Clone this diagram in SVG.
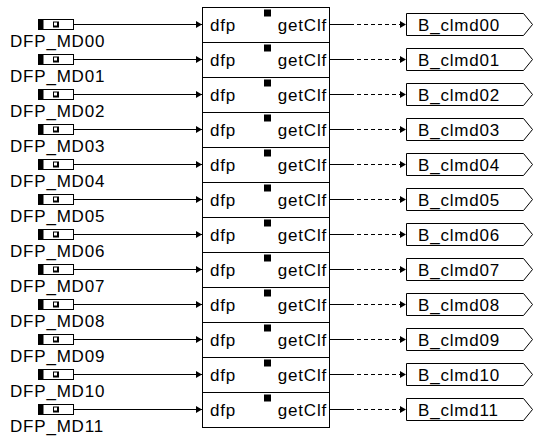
<svg xmlns="http://www.w3.org/2000/svg" width="534" height="437" viewBox="0 0 534 437">
<defs>
<style>
text{font-family:"Liberation Sans",Arial,sans-serif;font-size:17px;letter-spacing:0.8px;fill:#000}
.ln{stroke:#000;stroke-width:1;fill:none}
.dash{stroke:#000;stroke-width:1;fill:none;stroke-dasharray:4 3}
.box{fill:#fff;stroke:#000;stroke-width:1}
</style>
<marker id="ah" markerWidth="6" markerHeight="7" refX="6" refY="3.5" orient="auto" markerUnits="userSpaceOnUse">
<path d="M0,0 L6,3.5 L0,7 z" fill="#000"/>
</marker>
<g id="inp">
<rect x="38.5" y="19.5" width="35" height="10" class="box"/>
<rect x="38.5" y="19.5" width="5" height="10" fill="#000"/>
<rect x="53" y="21.5" width="6" height="6" fill="#000"/>
<rect x="54" y="22.5" width="3" height="3" fill="#fff"/>
</g>
<g id="sq"><rect x="264" y="9.5" width="7" height="7" fill="#000"/></g>
</defs>
<g id="connectors">
<g transform="translate(0,0)"><line x1="74" y1="24.5" x2="202" y2="24.5" class="ln" marker-end="url(#ah)"/><line x1="330" y1="24.5" x2="350" y2="24.5" class="ln"/><line x1="350" y1="24.5" x2="406" y2="24.5" class="dash" marker-end="url(#ah)"/></g>
<g transform="translate(0,35)"><line x1="74" y1="24.5" x2="202" y2="24.5" class="ln" marker-end="url(#ah)"/><line x1="330" y1="24.5" x2="350" y2="24.5" class="ln"/><line x1="350" y1="24.5" x2="406" y2="24.5" class="dash" marker-end="url(#ah)"/></g>
<g transform="translate(0,70)"><line x1="74" y1="24.5" x2="202" y2="24.5" class="ln" marker-end="url(#ah)"/><line x1="330" y1="24.5" x2="350" y2="24.5" class="ln"/><line x1="350" y1="24.5" x2="406" y2="24.5" class="dash" marker-end="url(#ah)"/></g>
<g transform="translate(0,105)"><line x1="74" y1="24.5" x2="202" y2="24.5" class="ln" marker-end="url(#ah)"/><line x1="330" y1="24.5" x2="350" y2="24.5" class="ln"/><line x1="350" y1="24.5" x2="406" y2="24.5" class="dash" marker-end="url(#ah)"/></g>
<g transform="translate(0,140)"><line x1="74" y1="24.5" x2="202" y2="24.5" class="ln" marker-end="url(#ah)"/><line x1="330" y1="24.5" x2="350" y2="24.5" class="ln"/><line x1="350" y1="24.5" x2="406" y2="24.5" class="dash" marker-end="url(#ah)"/></g>
<g transform="translate(0,175)"><line x1="74" y1="24.5" x2="202" y2="24.5" class="ln" marker-end="url(#ah)"/><line x1="330" y1="24.5" x2="350" y2="24.5" class="ln"/><line x1="350" y1="24.5" x2="406" y2="24.5" class="dash" marker-end="url(#ah)"/></g>
<g transform="translate(0,210)"><line x1="74" y1="24.5" x2="202" y2="24.5" class="ln" marker-end="url(#ah)"/><line x1="330" y1="24.5" x2="350" y2="24.5" class="ln"/><line x1="350" y1="24.5" x2="406" y2="24.5" class="dash" marker-end="url(#ah)"/></g>
<g transform="translate(0,245)"><line x1="74" y1="24.5" x2="202" y2="24.5" class="ln" marker-end="url(#ah)"/><line x1="330" y1="24.5" x2="350" y2="24.5" class="ln"/><line x1="350" y1="24.5" x2="406" y2="24.5" class="dash" marker-end="url(#ah)"/></g>
<g transform="translate(0,280)"><line x1="74" y1="24.5" x2="202" y2="24.5" class="ln" marker-end="url(#ah)"/><line x1="330" y1="24.5" x2="350" y2="24.5" class="ln"/><line x1="350" y1="24.5" x2="406" y2="24.5" class="dash" marker-end="url(#ah)"/></g>
<g transform="translate(0,315)"><line x1="74" y1="24.5" x2="202" y2="24.5" class="ln" marker-end="url(#ah)"/><line x1="330" y1="24.5" x2="350" y2="24.5" class="ln"/><line x1="350" y1="24.5" x2="406" y2="24.5" class="dash" marker-end="url(#ah)"/></g>
<g transform="translate(0,350)"><line x1="74" y1="24.5" x2="202" y2="24.5" class="ln" marker-end="url(#ah)"/><line x1="330" y1="24.5" x2="350" y2="24.5" class="ln"/><line x1="350" y1="24.5" x2="406" y2="24.5" class="dash" marker-end="url(#ah)"/></g>
<g transform="translate(0,385)"><line x1="74" y1="24.5" x2="202" y2="24.5" class="ln" marker-end="url(#ah)"/><line x1="330" y1="24.5" x2="350" y2="24.5" class="ln"/><line x1="350" y1="24.5" x2="406" y2="24.5" class="dash" marker-end="url(#ah)"/></g>
</g>
<g id="row00" transform="translate(0,0)"><use href="#inp"/><text x="10" y="47">DFP_MD00</text><rect x="202.5" y="7.5" width="127" height="35" class="box"/><use href="#sq"/><text x="210" y="31">dfp</text><text x="327" y="31" text-anchor="end">getClf</text><path d="M406.5,13.5 H523.5 L532.5,24.5 L523.5,35.5 H406.5 Z" class="box"/><text x="418" y="31">B_clmd00</text></g>
<g id="row01" transform="translate(0,35)"><use href="#inp"/><text x="10" y="47">DFP_MD01</text><rect x="202.5" y="7.5" width="127" height="35" class="box"/><use href="#sq"/><text x="210" y="31">dfp</text><text x="327" y="31" text-anchor="end">getClf</text><path d="M406.5,13.5 H523.5 L532.5,24.5 L523.5,35.5 H406.5 Z" class="box"/><text x="418" y="31">B_clmd01</text></g>
<g id="row02" transform="translate(0,70)"><use href="#inp"/><text x="10" y="47">DFP_MD02</text><rect x="202.5" y="7.5" width="127" height="35" class="box"/><use href="#sq"/><text x="210" y="31">dfp</text><text x="327" y="31" text-anchor="end">getClf</text><path d="M406.5,13.5 H523.5 L532.5,24.5 L523.5,35.5 H406.5 Z" class="box"/><text x="418" y="31">B_clmd02</text></g>
<g id="row03" transform="translate(0,105)"><use href="#inp"/><text x="10" y="47">DFP_MD03</text><rect x="202.5" y="7.5" width="127" height="35" class="box"/><use href="#sq"/><text x="210" y="31">dfp</text><text x="327" y="31" text-anchor="end">getClf</text><path d="M406.5,13.5 H523.5 L532.5,24.5 L523.5,35.5 H406.5 Z" class="box"/><text x="418" y="31">B_clmd03</text></g>
<g id="row04" transform="translate(0,140)"><use href="#inp"/><text x="10" y="47">DFP_MD04</text><rect x="202.5" y="7.5" width="127" height="35" class="box"/><use href="#sq"/><text x="210" y="31">dfp</text><text x="327" y="31" text-anchor="end">getClf</text><path d="M406.5,13.5 H523.5 L532.5,24.5 L523.5,35.5 H406.5 Z" class="box"/><text x="418" y="31">B_clmd04</text></g>
<g id="row05" transform="translate(0,175)"><use href="#inp"/><text x="10" y="47">DFP_MD05</text><rect x="202.5" y="7.5" width="127" height="35" class="box"/><use href="#sq"/><text x="210" y="31">dfp</text><text x="327" y="31" text-anchor="end">getClf</text><path d="M406.5,13.5 H523.5 L532.5,24.5 L523.5,35.5 H406.5 Z" class="box"/><text x="418" y="31">B_clmd05</text></g>
<g id="row06" transform="translate(0,210)"><use href="#inp"/><text x="10" y="47">DFP_MD06</text><rect x="202.5" y="7.5" width="127" height="35" class="box"/><use href="#sq"/><text x="210" y="31">dfp</text><text x="327" y="31" text-anchor="end">getClf</text><path d="M406.5,13.5 H523.5 L532.5,24.5 L523.5,35.5 H406.5 Z" class="box"/><text x="418" y="31">B_clmd06</text></g>
<g id="row07" transform="translate(0,245)"><use href="#inp"/><text x="10" y="47">DFP_MD07</text><rect x="202.5" y="7.5" width="127" height="35" class="box"/><use href="#sq"/><text x="210" y="31">dfp</text><text x="327" y="31" text-anchor="end">getClf</text><path d="M406.5,13.5 H523.5 L532.5,24.5 L523.5,35.5 H406.5 Z" class="box"/><text x="418" y="31">B_clmd07</text></g>
<g id="row08" transform="translate(0,280)"><use href="#inp"/><text x="10" y="47">DFP_MD08</text><rect x="202.5" y="7.5" width="127" height="35" class="box"/><use href="#sq"/><text x="210" y="31">dfp</text><text x="327" y="31" text-anchor="end">getClf</text><path d="M406.5,13.5 H523.5 L532.5,24.5 L523.5,35.5 H406.5 Z" class="box"/><text x="418" y="31">B_clmd08</text></g>
<g id="row09" transform="translate(0,315)"><use href="#inp"/><text x="10" y="47">DFP_MD09</text><rect x="202.5" y="7.5" width="127" height="35" class="box"/><use href="#sq"/><text x="210" y="31">dfp</text><text x="327" y="31" text-anchor="end">getClf</text><path d="M406.5,13.5 H523.5 L532.5,24.5 L523.5,35.5 H406.5 Z" class="box"/><text x="418" y="31">B_clmd09</text></g>
<g id="row10" transform="translate(0,350)"><use href="#inp"/><text x="10" y="47">DFP_MD10</text><rect x="202.5" y="7.5" width="127" height="35" class="box"/><use href="#sq"/><text x="210" y="31">dfp</text><text x="327" y="31" text-anchor="end">getClf</text><path d="M406.5,13.5 H523.5 L532.5,24.5 L523.5,35.5 H406.5 Z" class="box"/><text x="418" y="31">B_clmd10</text></g>
<g id="row11" transform="translate(0,385)"><use href="#inp"/><text x="10" y="47">DFP_MD11</text><rect x="202.5" y="7.5" width="127" height="35" class="box"/><use href="#sq"/><text x="210" y="31">dfp</text><text x="327" y="31" text-anchor="end">getClf</text><path d="M406.5,13.5 H523.5 L532.5,24.5 L523.5,35.5 H406.5 Z" class="box"/><text x="418" y="31">B_clmd11</text></g>
</svg>
